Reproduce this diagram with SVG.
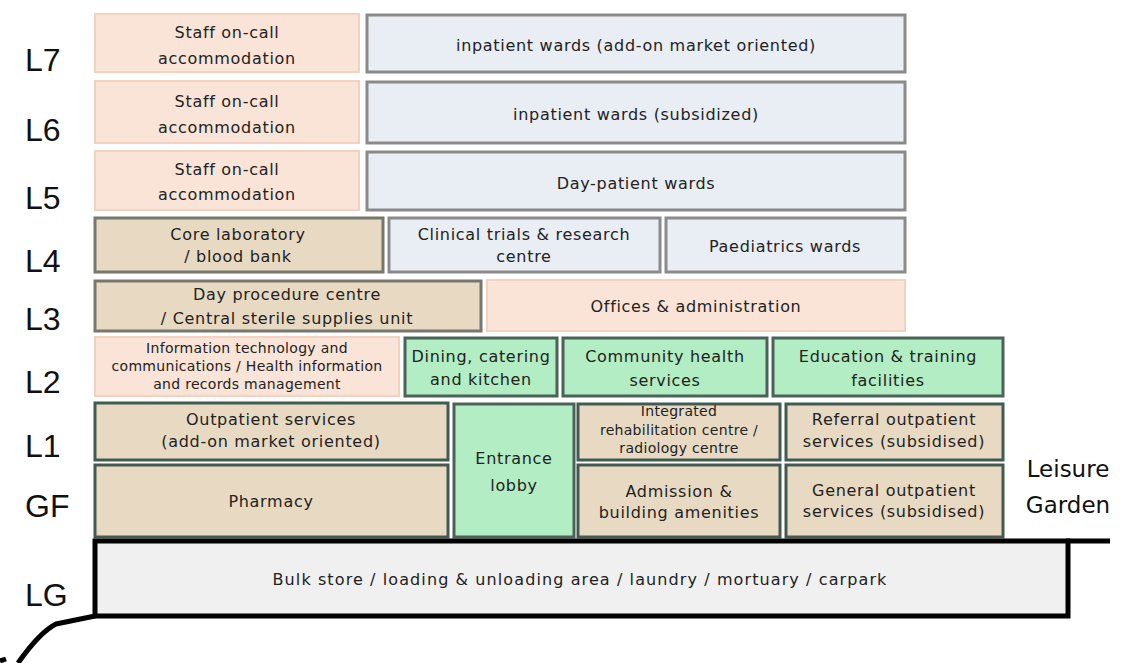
<svg xmlns="http://www.w3.org/2000/svg" width="1121" height="663" viewBox="0 0 1121 663">
  <style>
    .lvl { font-family: "Liberation Sans", Arial, sans-serif; font-size: 32px; fill: #111; }
    .t { font-family: "DejaVu Sans", "Liberation Sans", sans-serif; font-size: 16px; letter-spacing: 0.7px; fill: #222; text-anchor: middle; dominant-baseline: central; }
    .s { font-size: 14px; letter-spacing: 0.3px; }
    .peach { fill: #f9e4d7; stroke: #f2d3c1; stroke-width: 2; }
    .ward { fill: #e9edf4; stroke: #8a8a8a; stroke-width: 3; }
    .tan { fill: #e8dac2; stroke: #77776f; stroke-width: 3; }
    .tang { fill: #e8dac2; stroke: #435a50; stroke-width: 3; }
    .green { fill: #b2edc4; stroke: #4b6258; stroke-width: 3; }
    .lg { fill: #f0f0f0; stroke: #000; stroke-width: 5; }
    .edge { fill: none; stroke: #000; stroke-width: 5; stroke-linejoin: round; }
    .garden { font-family: "DejaVu Sans", "Liberation Sans", sans-serif; font-size: 23px; fill: #111; text-anchor: middle; }
  </style>

  <!-- level labels -->
  <g id="levels">
    <text class="lvl" x="25" y="71">L7</text>
    <text class="lvl" x="25" y="141">L6</text>
    <text class="lvl" x="25" y="209">L5</text>
    <text class="lvl" x="25" y="272">L4</text>
    <text class="lvl" x="25" y="330">L3</text>
    <text class="lvl" x="25" y="393">L2</text>
    <text class="lvl" x="25" y="457">L1</text>
    <text class="lvl" x="25" y="517">GF</text>
    <text class="lvl" x="25" y="606">LG</text>
  </g>

  <!-- L7 -->
  <g id="l7-staff">
    <rect class="peach" x="95" y="14" width="264" height="58"/>
    <text class="t" x="227" y="32">Staff on-call</text>
    <text class="t" x="227" y="58">accommodation</text>
  </g>
  <g id="l7-wards">
    <rect class="ward" x="367" y="15" width="538" height="57"/>
    <text class="t" x="636" y="45">inpatient wards (add-on market oriented)</text>
  </g>

  <!-- L6 -->
  <g id="l6-staff">
    <rect class="peach" x="95" y="81" width="264" height="62"/>
    <text class="t" x="227" y="101">Staff on-call</text>
    <text class="t" x="227" y="127">accommodation</text>
  </g>
  <g id="l6-wards">
    <rect class="ward" x="367" y="82" width="538" height="61"/>
    <text class="t" x="636" y="114">inpatient wards (subsidized)</text>
  </g>

  <!-- L5 -->
  <g id="l5-staff">
    <rect class="peach" x="95" y="151" width="264" height="59"/>
    <text class="t" x="227" y="169">Staff on-call</text>
    <text class="t" x="227" y="194">accommodation</text>
  </g>
  <g id="l5-daypatient">
    <rect class="ward" x="367" y="152" width="538" height="58"/>
    <text class="t" x="636" y="183">Day-patient wards</text>
  </g>

  <!-- L4 -->
  <g id="l4-corelab">
    <rect class="tan" x="95" y="218" width="288" height="54"/>
    <text class="t" x="238" y="234">Core laboratory</text>
    <text class="t" x="238" y="256">/ blood bank</text>
  </g>
  <g id="l4-clinical">
    <rect class="ward" x="389" y="218" width="271" height="54"/>
    <text class="t" x="524" y="234">Clinical trials &amp; research</text>
    <text class="t" x="524" y="256">centre</text>
  </g>
  <g id="l4-paediatrics">
    <rect class="ward" x="666" y="218" width="239" height="54"/>
    <text class="t" x="785" y="246">Paediatrics wards</text>
  </g>

  <!-- L3 -->
  <g id="l3-dayprocedure">
    <rect class="tan" x="95" y="281" width="386" height="50"/>
    <text class="t" x="287" y="294">Day procedure centre</text>
    <text class="t" x="287" y="318">/ Central sterile supplies unit</text>
  </g>
  <g id="l3-offices">
    <rect class="peach" x="487" y="280" width="418" height="51"/>
    <text class="t" x="696" y="306">Offices &amp; administration</text>
  </g>

  <!-- L2 -->
  <g id="l2-it">
    <rect class="peach" x="95" y="337" width="304" height="59"/>
    <text class="t s" x="247" y="348">Information technology and</text>
    <text class="t s" x="247" y="366">communications / Health information</text>
    <text class="t s" x="247" y="384">and records management</text>
  </g>
  <g id="l2-dining">
    <rect class="green" x="405" y="338" width="152" height="58"/>
    <text class="t" x="481" y="356">Dining, catering</text>
    <text class="t" x="481" y="379">and kitchen</text>
  </g>
  <g id="l2-community">
    <rect class="green" x="563" y="338" width="204" height="58"/>
    <text class="t" x="665" y="356">Community health</text>
    <text class="t" x="665" y="380">services</text>
  </g>
  <g id="l2-education">
    <rect class="green" x="773" y="338" width="230" height="58"/>
    <text class="t" x="888" y="356">Education &amp; training</text>
    <text class="t" x="888" y="380">facilities</text>
  </g>

  <!-- L1 -->
  <g id="l1-outpatient">
    <rect class="tang" x="95" y="403" width="353" height="57"/>
    <text class="t" x="271" y="419">Outpatient services</text>
    <text class="t" x="271" y="441">(add-on market oriented)</text>
  </g>
  <g id="entrance-lobby">
    <rect class="green" x="454" y="404" width="120" height="133"/>
    <text class="t" x="514" y="458">Entrance</text>
    <text class="t" x="514" y="485">lobby</text>
  </g>
  <g id="l1-rehab">
    <rect class="tang" x="578" y="404" width="202" height="56"/>
    <text class="t s" x="679" y="411">Integrated</text>
    <text class="t s" x="679" y="430">rehabilitation centre /</text>
    <text class="t s" x="679" y="448">radiology centre</text>
  </g>
  <g id="l1-referral">
    <rect class="tang" x="786" y="404" width="217" height="56"/>
    <text class="t" x="894" y="419">Referral outpatient</text>
    <text class="t" x="894" y="441">services (subsidised)</text>
  </g>

  <!-- GF -->
  <g id="gf-pharmacy">
    <rect class="tang" x="95" y="465" width="353" height="72"/>
    <text class="t" x="271" y="501">Pharmacy</text>
  </g>
  <g id="gf-admission">
    <rect class="tang" x="578" y="465" width="202" height="72"/>
    <text class="t" x="679" y="491">Admission &amp;</text>
    <text class="t" x="679" y="512">building amenities</text>
  </g>
  <g id="gf-general">
    <rect class="tang" x="786" y="465" width="217" height="72"/>
    <text class="t" x="894" y="490">General outpatient</text>
    <text class="t" x="894" y="511">services (subsidised)</text>
  </g>

  <!-- LG -->
  <g id="lg-bulkstore">
    <rect class="lg" x="95" y="541" width="973" height="75"/>
    <text class="t" x="580" y="579" style="letter-spacing:1.1px">Bulk store / loading &amp; unloading area / laundry / mortuary / carpark</text>
  </g>

  <!-- ground profile -->
  <g id="ground">
    <path class="edge" d="M1066,541 L1110,541"/>
    <path class="edge" d="M95,616 L56,624 Q40,632 18,663"/>
    <path class="edge" d="M0,661 L6,659"/>
  </g>

  <g id="leisure-garden">
    <text class="garden" x="1068" y="477">Leisure</text>
    <text class="garden" x="1068" y="513">Garden</text>
  </g>
</svg>
